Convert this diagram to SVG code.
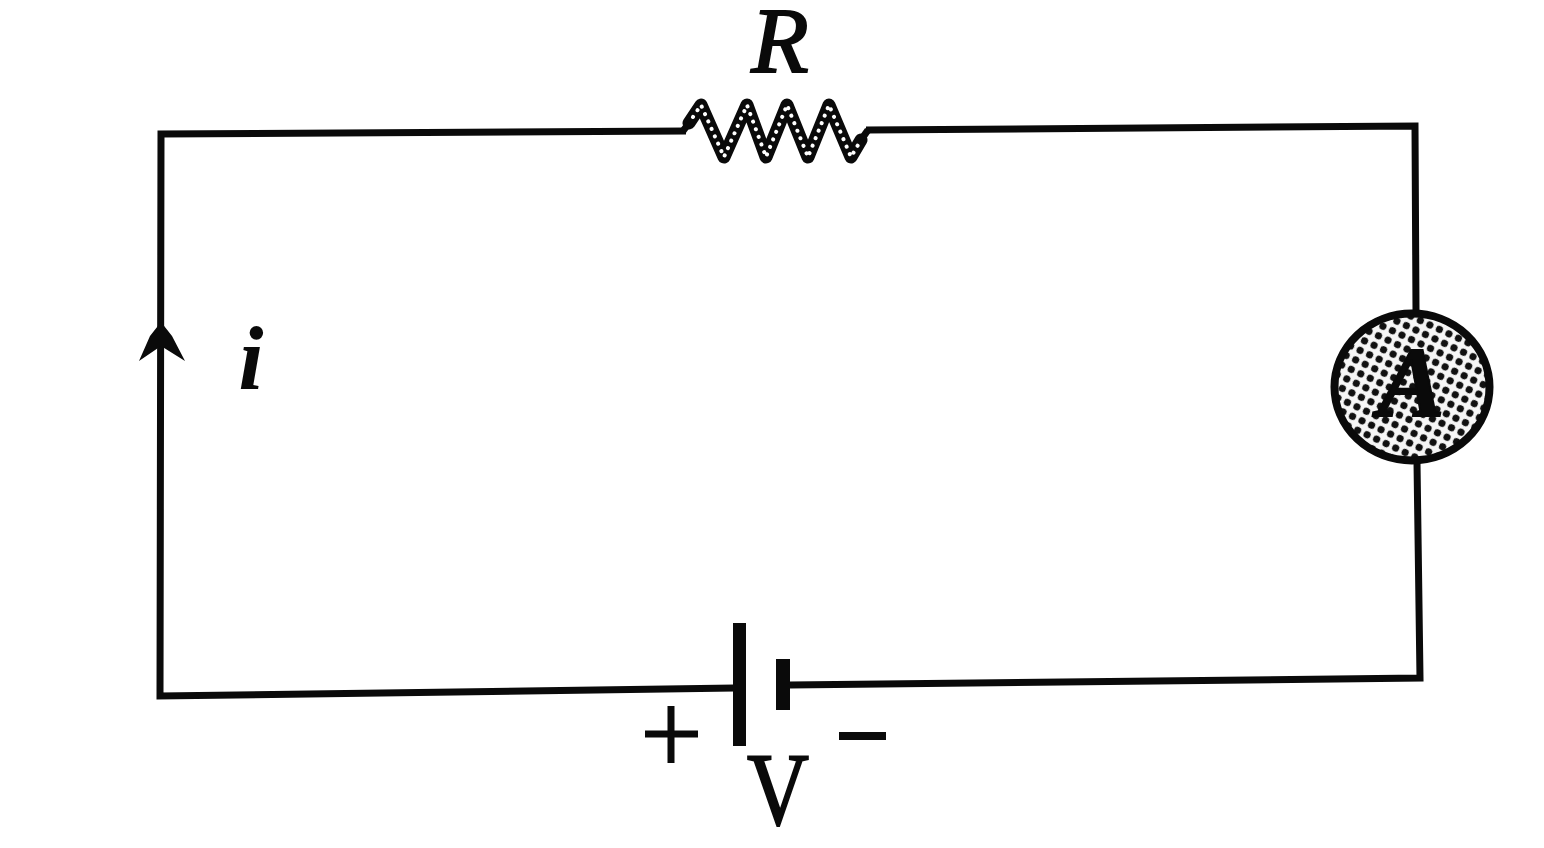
<svg xmlns="http://www.w3.org/2000/svg" width="1544" height="848" viewBox="0 0 1544 848">
<style>
.w{fill:none;stroke:#0a0a0a;stroke-width:7;stroke-linejoin:miter;stroke-linecap:butt}
.t{font-family:"Liberation Serif",serif;fill:#0a0a0a;text-anchor:middle}
.f{fill:#0a0a0a}
</style>
<defs>
<pattern id="dots" width="10.5" height="10.5" patternUnits="userSpaceOnUse" patternTransform="rotate(25)">
<rect width="10.5" height="10.5" fill="#f6f6f6"/>
<circle cx="5.25" cy="5.25" r="3.6" fill="#111"/>
</pattern>
</defs>
<rect width="1544" height="848" fill="#fff"/>
<g id="connectors">
<polyline class="w" points="686,131 161,134 160,696 735,688"/>
<polyline class="w" points="866,130 1415,126 1416,312"/>
<polyline class="w" points="1417,462 1420,678 790,685"/>
</g>
<g id="current-arrow">
<polygon class="f" points="161,322 172,336 185,361 161,346 139,361 150,336"/>
<text class="t" x="251" y="389" font-size="90" font-style="italic" font-weight="bold">i</text>
</g>
<g id="resistor">
<polyline fill="none" stroke="#0a0a0a" stroke-width="13" stroke-linejoin="round" stroke-linecap="round" points="689,123 701,105 724,157 747,105 766,157 787,105 808,157 829,105 851,157 861,140"/>
<polyline fill="none" stroke="#0a0a0a" stroke-width="7" points="683,131 689,123"/>
<polyline fill="none" stroke="#0a0a0a" stroke-width="7" points="861,140 868,130"/>
<polyline fill="none" stroke="#fff" stroke-width="4" stroke-linecap="round" stroke-dasharray="0.1 8" points="693,117 701,105 724,157 747,105 766,157 787,105 808,157 829,105 851,157 858,145"/>
<text class="t" x="780" y="72" font-size="94" font-style="italic" stroke="#0a0a0a" stroke-width="2">R</text>
</g>
<g id="ammeter">
<ellipse cx="1412" cy="387" rx="77.500" ry="73.500" fill="url(#dots)" stroke="#0a0a0a" stroke-width="8"/>
<text class="t" x="1411" y="416" font-size="100" font-style="italic" font-weight="bold" stroke="#0a0a0a" stroke-width="2">A</text>
</g>
<g id="battery">
<rect class="f" x="733" y="623" width="13" height="123"/>
<rect class="f" x="776" y="659" width="14" height="51"/>
<text class="t" x="778" y="824" font-size="104" textLength="62" lengthAdjust="spacingAndGlyphs" stroke="#0a0a0a" stroke-width="2">V</text>
<path d="M645,734H698M671,706V763" fill="none" stroke="#0a0a0a" stroke-width="7"/>
<path d="M839,736H886" fill="none" stroke="#0a0a0a" stroke-width="8"/>
</g>
</svg>
